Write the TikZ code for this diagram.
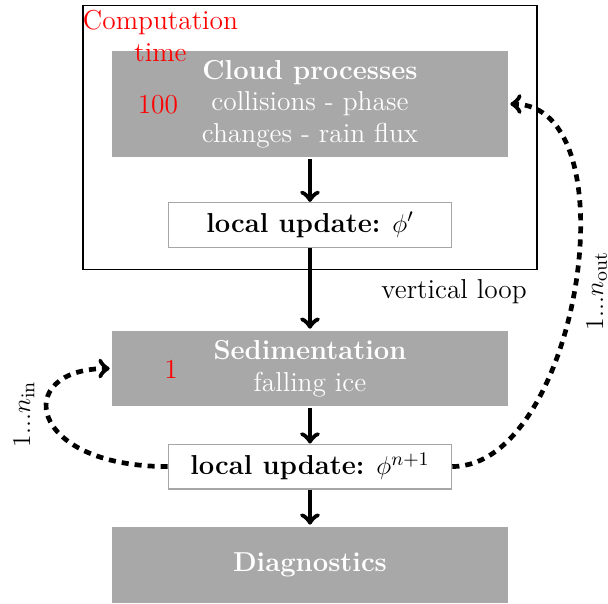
\documentclass[tikz,border=0pt]{standalone}
\usepackage{tikz}
\usetikzlibrary{arrows,positioning}
\usepackage{amsmath}
\definecolor{boxgray}{RGB}{168,168,168}
\newcommand{\boxfont}{\fontsize{12.8pt}{14.7pt}\selectfont}

\begin{document}
\begin{tikzpicture}[x=1pt,y=-1pt,->,>=to,line width=2.2pt,
        process/.style={fill=boxgray,text=white,font=\boxfont,align=center,minimum width=185pt,inner sep=0pt},
        update/.style={draw=gray!70,line width=0.5pt,fill=white,font=\boxfont,minimum width=132.5pt,minimum height=21pt,inner sep=0pt},
        iter/.style={dash pattern=on 3.3pt off 2.8pt},
        cost/.style={text=red,font=\boxfont,align=center},
        count/.style={font=\boxfont,rotate=90}]
    \useasboundingbox (0,0) rectangle (284.1,282.2);

    \node   [draw,line width=0.6pt,minimum width=212.1pt,minimum height=123.3pt]   (vloop) at (144.85,64.25) {};
    \node   [process,minimum height=49.5pt]     (cloud) at (144.85,48.6) {\textbf{Cloud processes}\\collisions - phase\\changes - rain flux};
    \node   [update]                            (upd1)  at (144.85,105.1) {\textbf{local update:} $\phi'$};
    \node   [process,minimum height=35pt]       (sed)   at (144.85,172.2) {\textbf{Sedimentation}\\falling ice};
    \node   [update]                            (upd2)  at (144.85,218.0) {\textbf{local update:} $\phi^{n+1}$};
    \node   [process,minimum height=35.5pt]     (diag)  at (144.85,264.0) {\textbf{Diagnostics}};

    \node   [cost]      (ctime)  at (75.0,16.8)  {Computation\\time};
    \node   [cost]      (c100)   at (73.8,49.1)  {100};
    \node   [cost]      (c1)     at (79.9,172.4) {1};
    \node   [font=\boxfont] (vlabel) at (212.2,136.3) {vertical loop};
    \node   [count]     (nin)    at (11.2,193.5) {$1...n_{\mathrm{in}}$};
    \node   [count]     (nout)   at (278.8,136.0) {$1...n_{\mathrm{out}}$};

    \path   (cloud) edge (upd1)
            (upd1) edge (sed)
            (sed) edge (upd2)
            (upd2) edge (diag);

    \draw   [iter] (upd2.west) .. controls +(-66,0) and +(-46,0) .. (sed.west);
    \draw   [iter] (upd2.east) .. controls +(59,0) and +(58,0) .. (cloud.east);
\end{tikzpicture}
\end{document}
